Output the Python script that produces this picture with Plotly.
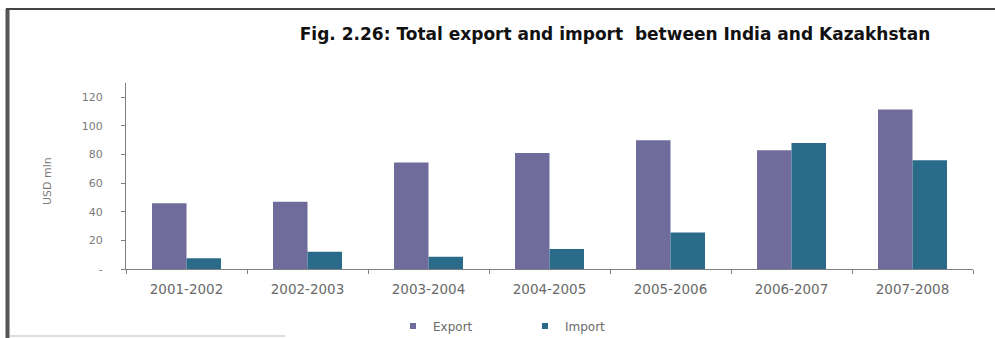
import plotly.graph_objects as go

# Trade data, USD mln
years = ["2001-2002", "2002-2003", "2003-2004", "2004-2005",
         "2005-2006", "2006-2007", "2007-2008"]
export_vals = [46, 47, 74.5, 81, 90, 83, 111.5]
import_vals = [7.5, 12, 8.5, 14, 25.5, 88, 76]
y_ticks = [0, 20, 40, 60, 80, 100, 120]
y_tick_text = ["-", "20", "40", "60", "80", "100", "120"]

EXPORT_COLOR = "#6f6c9c"
IMPORT_COLOR = "#2a6b8a"
FONT = "DejaVu Sans, Arial, sans-serif"

W, H = 995, 338
L, R, T, B = 126, 22, 83, 69
plot_w = W - L - R
plot_h = H - T - B


def px_x(p):
    return (p - L) / plot_w


def px_y(p):
    return (H - B - p) / plot_h


fig = go.Figure()
fig.add_trace(go.Bar(x=years, y=export_vals, name="Export",
                     marker=dict(color=EXPORT_COLOR, line_width=0),
                     showlegend=False))
fig.add_trace(go.Bar(x=years, y=import_vals, name="Import",
                     marker=dict(color=IMPORT_COLOR, line_width=0),
                     showlegend=False))
# compact square legend keys
for name, col in (("Export", EXPORT_COLOR), ("Import", IMPORT_COLOR)):
    fig.add_trace(go.Scatter(x=[None], y=[None], mode="markers", name=name,
                             marker=dict(symbol="square", size=6, color=col)))

fig.update_layout(
    width=W, height=H,
    margin=dict(l=L, r=R, t=T, b=B, autoexpand=False),
    paper_bgcolor="white", plot_bgcolor="white",
    barmode="group", bargap=0.43, bargroupgap=0,
    font=dict(family=FONT, color="#777777"),
    title=dict(text="<b>Fig. 2.26: Total export and import  between India and Kazakhstan</b>",
               x=615 / W, xref="container", xanchor="center",
               y=1 - 34 / H, yref="container", yanchor="middle",
               font=dict(family=FONT, size=17, color="#111111")),
    xaxis=dict(showline=True, linecolor="#808080", linewidth=1,
               ticks="outside", tickson="boundaries", ticklen=4,
               tickcolor="#808080", tickfont=dict(size=13.5, color="#6a6a6a"),
               ticklabelstandoff=8,
               showgrid=False, zeroline=False),
    yaxis=dict(range=[0, 130], showline=True, linecolor="#808080", linewidth=1,
               ticks="outside", ticklen=4, tickcolor="#808080",
               tickvals=y_ticks, ticktext=y_tick_text,
               tickfont=dict(size=11, color="#7a7a7a"),
               ticklabelstandoff=16,
               showgrid=False, zeroline=False),
    legend=dict(orientation="h", x=px_x(393), xanchor="left", y=px_y(326),
                yanchor="middle", font=dict(size=12, color="#6a6a6a"),
                entrywidth=87, itemwidth=30, bgcolor="rgba(0,0,0,0)"),
    annotations=[dict(text="USD mln", textangle=-90, showarrow=False,
                      xref="paper", yref="paper", x=px_x(47), y=px_y(181),
                      xanchor="center", yanchor="middle",
                      font=dict(size=11, color="#7a7a7a"))],
    shapes=[
        dict(type="line", xref="paper", yref="paper",
             x0=px_x(7.5), x1=px_x(7.5), y0=px_y(9), y1=px_y(338),
             line=dict(color="#555555", width=4)),
        dict(type="line", xref="paper", yref="paper",
             x0=px_x(6), x1=px_x(995), y0=px_y(9), y1=px_y(9),
             line=dict(color="#444444", width=2)),
        dict(type="line", xref="paper", yref="paper",
             x0=px_x(10), x1=px_x(285), y0=px_y(336), y1=px_y(336),
             line=dict(color="#bbbbbb", width=1)),
    ],
)

fig.write_html("out.html")
